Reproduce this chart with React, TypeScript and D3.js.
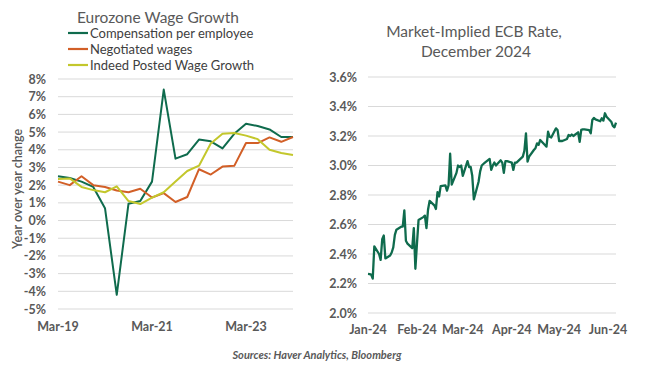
import React from "react";
import * as d3 from "d3";

// ---------- Left chart data (quarterly, YoY %) ----------
const quarters = [
  "Mar-19", "Jun-19", "Sep-19", "Dec-19",
  "Mar-20", "Jun-20", "Sep-20", "Dec-20",
  "Mar-21", "Jun-21", "Sep-21", "Dec-21",
  "Mar-22", "Jun-22", "Sep-22", "Dec-22",
  "Mar-23", "Jun-23", "Sep-23", "Dec-23",
  "Mar-24",
];
const compensation = [2.5, 2.4, 2.2, 1.9, 0.7, -4.2, 0.95, 1.1, 2.2, 7.4, 3.5, 3.75, 4.58, 4.48, 4.08, 4.9, 5.47, 5.34, 5.15, 4.72, 4.72];
const negotiated = [2.2, 2.0, 2.5, 2.0, 1.9, 1.7, 1.6, 1.8, 1.3, 1.55, 1.05, 1.33, 2.9, 2.6, 3.05, 3.09, 4.38, 4.38, 4.7, 4.45, 4.72];
const indeed = [2.35, 2.38, 1.9, 1.72, 1.6, 1.93, 1.1, 0.93, 1.3, 1.6, 2.2, 2.8, 3.1, 4.35, 4.9, 4.95, 4.8, 4.6, 4.0, 3.82, 3.7];
const leftTicks = [8, 7, 6, 5, 4, 3, 2, 1, 0, -1, -2, -3, -4, -5];
const leftXLabels = ["Mar-19", "Mar-21", "Mar-23"];
const leftSeriesNames = ["Compensation per employee", "Negotiated wages", "Indeed Posted Wage Growth"];

// ---------- Right chart data (daily, market-implied ECB rate %) ----------
const rateJan = [2.265, 2.264, 2.26, 2.233, 2.452, 2.40, 2.36, 2.50, 2.525, 2.37, 2.39, 2.41, 2.445, 2.53, 2.565, 2.585, 2.585, 2.696, 2.49, 2.47, 2.44, 2.576, 2.30];
const rateFeb = [2.47, 2.63, 2.65, 2.66, 2.575, 2.70, 2.76, 2.73, 2.705, 2.82, 2.79, 2.86, 2.865, 2.83, 2.865, 3.08, 2.87, 2.95, 3.0, 2.99, 3.0];
const rateMar = [2.93, 3.03, 2.99, 2.99, 2.93, 2.77, 2.89, 2.96, 3.0, 3.01, 3.02, 3.045, 2.97, 3.0, 3.02, 3.0, 3.035, 3.02, 2.95, 3.03, 3.03];
const rateApr = [3.02, 2.97, 3.02, 3.02, 3.03, 3.06, 3.10, 3.218, 3.026, 3.06, 3.105, 3.117, 3.15, 3.14, 3.173, 3.139, 3.128, 3.229, 3.195, 3.19, 3.252, 3.241];
const rateMay = [3.166, 3.166, 3.166, 3.18, 3.207, 3.20, 3.21, 3.20, 3.225, 3.161, 3.241, 3.245, 3.245, 3.24, 3.218, 3.308, 3.322, 3.313, 3.30, 3.32, 3.304, 3.354, 3.331];
const rateJun = [3.297, 3.268, 3.259, 3.29];
const rightTicks = [3.6, 3.4, 3.2, 3.0, 2.8, 2.6, 2.4, 2.2, 2.0];
const monthStarts = ["2024-01-01", "2024-02-01", "2024-03-01", "2024-04-01", "2024-05-01", "2024-06-01"];

const GREEN = "#0F6B4D";
const ORANGE = "#D25F27";
const YELLOW = "#C3C72C";
const GRID = "#D9D9D9";
const TEXT = "#595959";
const FONT = "Lato, 'Open Sans', sans-serif";

function weekdaysOf(year: number, month: number, startDay: number, count: number) {
  const start = new Date(year, month, startDay);
  const end = new Date(year, month + 1, 1);
  return d3.timeDay.range(start, end).filter((d) => d.getDay() !== 0 && d.getDay() !== 6).slice(0, count);
}

export default function App() {
  // Left chart scales
  const xL = d3.scalePoint<string>().domain(quarters).range([58, 293]);
  const yL = d3.scaleLinear().domain([-5, 8]).range([309, 79]);
  const lineL = d3
    .line<number>()
    .x((_, i) => xL(quarters[i]) as number)
    .y((v) => yL(v));
  const leftSeries = [
    { name: leftSeriesNames[0], values: compensation, color: GREEN },
    { name: leftSeriesNames[1], values: negotiated, color: ORANGE },
    { name: leftSeriesNames[2], values: indeed, color: YELLOW },
  ];

  // Right chart
  const monthly = [
    { vals: rateJan, m: 0, s: 1 },
    { vals: rateFeb, m: 1, s: 1 },
    { vals: rateMar, m: 2, s: 1 },
    { vals: rateApr, m: 3, s: 1 },
    { vals: rateMay, m: 4, s: 1 },
    { vals: rateJun, m: 5, s: 3 },
  ];
  const rateData: { date: Date; v: number }[] = [];
  monthly.forEach(({ vals, m, s }) => {
    const days = weekdaysOf(2024, m, s, vals.length);
    vals.forEach((v, i) => rateData.push({ date: days[i], v }));
  });
  const parse = d3.timeParse("%Y-%m-%d");
  const monthDates = monthStarts.map((s) => parse(s) as Date);
  const xR = d3
    .scaleTime()
    .domain([new Date(2024, 0, 1), new Date(2024, 5, 6)])
    .range([368, 616]);
  const yR = d3.scaleLinear().domain([2.0, 3.6]).range([313, 77]);
  const lineR = d3
    .line<{ date: Date; v: number }>()
    .x((d) => xR(d.date))
    .y((d) => yR(d.v));
  const fmtMonth = d3.timeFormat("%b-%y");

  return (
    <svg
      width={650}
      height={376}
      style={{ position: "absolute", left: 0, top: 0, background: "#fff" }}
      fontFamily={FONT}
    >
      <rect x={0} y={0} width={650} height={376} fill="#fff" />

      {/* ---------- Left chart ---------- */}
      <text x={158} y={17} textAnchor="middle" dominantBaseline="central" fontSize={15.5} fill={TEXT}>
        Eurozone Wage Growth
      </text>
      {leftSeries.map((s, i) => (
        <g key={s.name}>
          <line x1={68} x2={88} y1={33 + i * 16} y2={33 + i * 16} stroke={s.color} strokeWidth={2.2} />
          <text x={90} y={33 + i * 16} dominantBaseline="central" fontSize={13} fill="#404040">
            {s.name}
          </text>
        </g>
      ))}
      {leftTicks.map((t) => (
        <g key={t}>
          <line x1={58} x2={293} y1={yL(t)} y2={yL(t)} stroke={GRID} strokeWidth={1} />
          <text x={46} y={yL(t)} textAnchor="end" dominantBaseline="central" fontSize={12.5} fontWeight={700} fill={TEXT}>
            {`${t}%`}
          </text>
        </g>
      ))}
      {leftXLabels.map((l) => (
        <text key={l} x={xL(l) as number} y={326} textAnchor="middle" dominantBaseline="central" fontSize={12.5} fontWeight={700} fill={TEXT}>
          {l}
        </text>
      ))}
      <text
        transform={`translate(17,189) rotate(-90)`}
        textAnchor="middle"
        dominantBaseline="central"
        fontSize={12.5}
        fontWeight={600}
        fill={TEXT}
      >
        Year over year change
      </text>
      {leftSeries.map((s) => (
        <path key={s.name} d={lineL(s.values) as string} fill="none" stroke={s.color} strokeWidth={2} strokeLinejoin="round" />
      ))}

      {/* ---------- Right chart ---------- */}
      <text x={474} y={31} textAnchor="middle" dominantBaseline="central" fontSize={15.5} fill={TEXT}>
        Market-Implied ECB Rate,
      </text>
      <text x={476} y={51} textAnchor="middle" dominantBaseline="central" fontSize={15.5} fill={TEXT}>
        December 2024
      </text>
      {rightTicks.map((t) => (
        <g key={t}>
          <line x1={368} x2={616} y1={yR(t)} y2={yR(t)} stroke={GRID} strokeWidth={1} />
          <text x={357} y={yR(t)} textAnchor="end" dominantBaseline="central" fontSize={12.5} fontWeight={700} fill={TEXT}>
            {`${t.toFixed(1)}%`}
          </text>
        </g>
      ))}
      {monthDates.map((d) => (
        <text key={d.toISOString()} x={xR(d)} y={329} textAnchor="middle" dominantBaseline="central" fontSize={12.5} fontWeight={700} fill={TEXT}>
          {fmtMonth(d)}
        </text>
      ))}
      <path d={lineR(rateData) as string} fill="none" stroke={GREEN} strokeWidth={2.3} strokeLinejoin="round" />

      {/* ---------- Source ---------- */}
      <text x={317} y={354} textAnchor="middle" dominantBaseline="central" fontSize={11} fontStyle="italic" fontWeight={700} fill={TEXT}>
        Sources: Haver Analytics, Bloomberg
      </text>
    </svg>
  );
}
